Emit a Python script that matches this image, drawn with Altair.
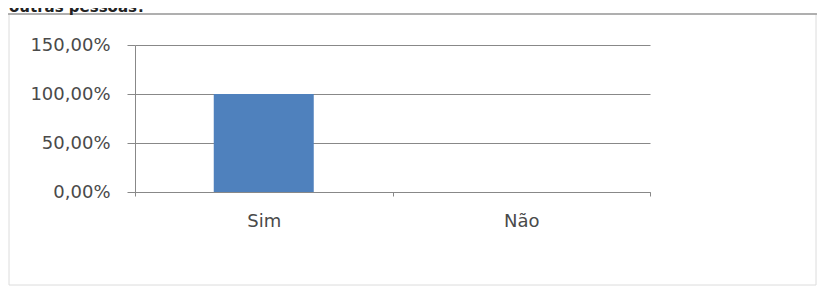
import altair as alt
import pandas as pd

# Data
categories = ["Sim", "Não"]
values = [1.0, 0.0]
y_ticks = [0.0, 0.5, 1.0, 1.5]
title_text = ["outras pessoas?"]

df = pd.DataFrame({"cat": categories, "val": values})
title_df = pd.DataFrame({"t": title_text})
one = pd.DataFrame({"k": [0]})

W, H = 515, 147
PAD = {"left": 127, "top": 37, "right": 167, "bottom": 94}

frame = alt.Chart(one).mark_rect(fill=None, stroke="#dcdcdc", strokeWidth=1).encode(
    x=alt.value(-126), x2=alt.value(W + PAD["right"] - 1),
    y=alt.value(-31), y2=alt.value(H + PAD["bottom"] - 1),
)

top_line = alt.Chart(one).mark_rule(color="#9a9a9a", strokeWidth=1.5).encode(
    x=alt.value(-PAD["left"]), x2=alt.value(W + PAD["right"]),
    y=alt.value(-31),
)

title = alt.Chart(title_df).mark_text(
    align="left", baseline="alphabetic", font="DejaVu Sans", fontSize=15,
    fontWeight="bold", color="#222222",
).encode(x=alt.value(-PAD["left"] + 1), y=alt.value(-33), text="t:N")

bars = alt.Chart(df).mark_bar(size=100, color="#4f81bd").encode(
    x=alt.X(
        "cat:N", sort=categories, title=None,
        scale=alt.Scale(paddingInner=0, paddingOuter=0),
        axis=alt.Axis(
            tickBand="extent", tickSize=4, labelPadding=16, labelAngle=0,
            labelFont="DejaVu Sans", labelFontSize=18, labelColor="#4a4a4a",
            domainColor="#888888", tickColor="#888888", grid=False,
        ),
    ),
    y=alt.Y(
        "val:Q", title=None,
        scale=alt.Scale(domain=[0, 1.5], nice=False),
        axis=alt.Axis(
            values=y_ticks, grid=True, gridColor="#888888", gridOpacity=1,
            domainColor="#888888", tickColor="#888888", tickSize=8,
            labelPadding=17, labelFont="DejaVu Sans", labelFontSize=18,
            labelColor="#4a4a4a",
            labelExpr="replace(format(datum.value, '.2%'), '.', ',')",
        ),
    ),
)

chart = alt.layer(frame, top_line, title, bars).properties(
    width=W, height=H,
    autosize=alt.AutoSizeParams(type="none"),
    padding=PAD,
    background="white",
).configure_view(stroke=None)

chart.save("out.html", embed_options={"renderer": "svg", "actions": False})
